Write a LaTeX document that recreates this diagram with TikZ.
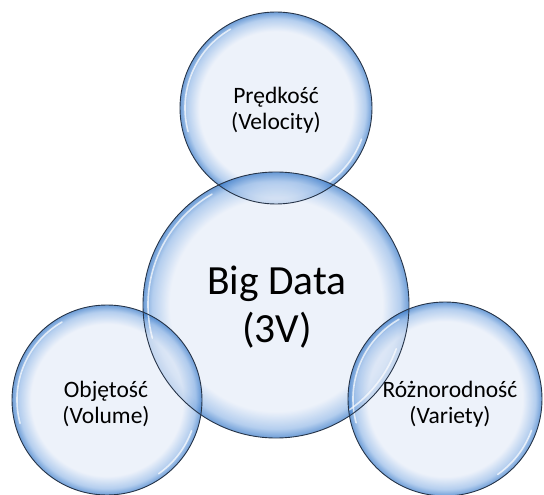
\documentclass[tikz,border=0pt]{standalone}
\usepackage{fontspec}
\setmainfont{Carlito}
\usetikzlibrary{calc}
\definecolor{bubC}{RGB}{229,236,248}
\definecolor{bubM}{RGB}{148,185,231}
\definecolor{bubE}{RGB}{48,116,198}
\definecolor{rimcol}{RGB}{38,52,72}
\pgfdeclareradialshading{bubble}{\pgfpoint{0bp}{0bp}}{%
  color(0bp)=(bubC); color(20bp)=(bubC); color(23.3bp)=(bubM);
  color(25bp)=(bubE); color(50bp)=(bubE)}
\tikzset{
  bubblefill/.style={shading=bubble, fill opacity=0.7},
  rim/.style={draw=rimcol, line width=0.9pt},
  gloss/.style={draw=white, line width=1.6pt, opacity=0.7, line cap=round},
  smalllabel/.style={font=\fontsize{23.5}{26}\selectfont, align=center, text=black},
  biglabel/.style={font=\fontsize{41.5}{48}\selectfont, align=center, text=black}
}
\begin{document}
\begin{tikzpicture}[x=1pt,y=-1pt]
\useasboundingbox (0,0) rectangle (544,495);
% centres and radii
\coordinate (cT) at (276,108);
\coordinate (cB) at (276,305);
\coordinate (cL) at (107,400);
\coordinate (cR) at (445,399);
% fills
\shade[bubblefill] (cT) circle (96);
\shade[bubblefill] (cB) circle (133);
\shade[bubblefill] (cL) circle (95);
\shade[bubblefill] (cR) circle (97);
% gloss highlights (y axis points down: code angle -a is visual angle a)
\foreach \c/\r in {cT/96, cB/133, cL/95, cR/97}{
  \draw[gloss] ($(\c)+(-120:{\r-5})$) arc[start angle=-120, end angle=-195, radius={\r-5}];
  \draw[gloss] ($(\c)+(20:{\r-5})$) arc[start angle=20, end angle=55, radius={\r-5}];
}
% rims
\draw[rim] (cT) circle (96);
\draw[rim] (cB) circle (133);
\draw[rim] (cL) circle (95);
\draw[rim] (cR) circle (97);
% labels
\node[smalllabel] (vel) at (276,110) {Prędkość\\(Velocity)};
\node[biglabel] (big) at (277,307) {Big Data\\(3V)};
\node[smalllabel] (vol) at (106,404) {Objętość\\(Volume)};
\node[smalllabel] (var) at (450,404) {Różnorodność\\(Variety)};
\end{tikzpicture}
\end{document}
